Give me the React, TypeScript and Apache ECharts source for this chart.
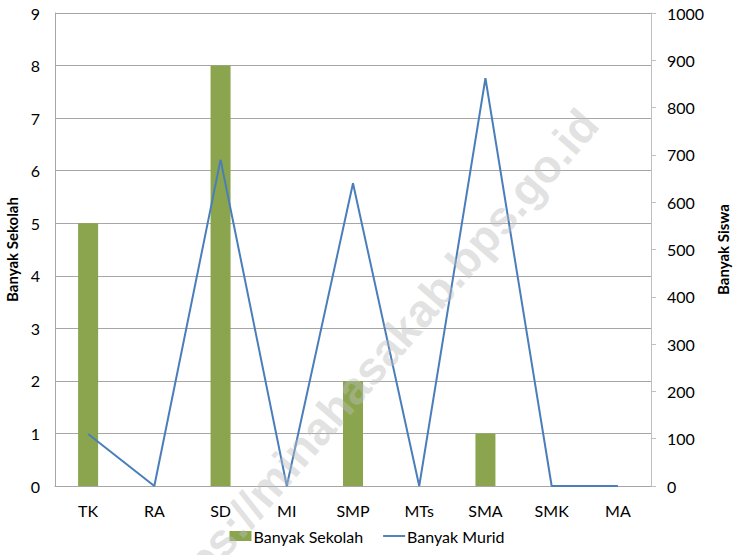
import React, { useEffect, useRef } from "react";
import * as echarts from "echarts";

const categories = ["TK", "RA", "SD", "MI", "SMP", "MTs", "SMA", "SMK", "MA"];
const banyakSekolah = [5, 0, 8, 0, 2, 0, 1, 0, 0];
const banyakMurid = [110, 0, 690, 0, 640, 0, 862, 0, 0];
const leftTicks = { min: 0, max: 9, interval: 1 };
const rightTicks = { min: 0, max: 1000, interval: 100 };

const FONT = "Lato, 'Open Sans', sans-serif";

export default function App() {
  const ref = useRef<HTMLDivElement>(null);
  useEffect(() => {
    document.body.style.margin = "0";
    if (!ref.current) return;
    const chart = echarts.init(ref.current, null, { renderer: "svg" });
    chart.setOption({
      animation: false,
      backgroundColor: "#ffffff",
      textStyle: { fontFamily: FONT },
      grid: {
        left: 55,
        right: 83,
        top: 13,
        bottom: 69,
        containLabel: false,
        outerBoundsMode: "none",
      },
      legend: {
        bottom: 6,
        left: "center",
        itemGap: 20,
        itemWidth: 22,
        itemHeight: 10,
        textStyle: { fontSize: 16, color: "#000", fontFamily: FONT, padding: [0, 0, 0, -3] },
        data: [
          { name: "Banyak Sekolah", icon: "rect" },
          { name: "Banyak Murid", icon: "path://M0,0h30v2.6h-30z" },
        ],
      },
      xAxis: {
        type: "category",
        data: categories,
        axisLine: { lineStyle: { color: "#a6a6a6" } },
        axisTick: { show: false },
        axisLabel: { fontSize: 16, color: "#000", margin: 16, fontFamily: FONT },
      },
      yAxis: [
        {
          type: "value",
          ...leftTicks,
          name: "Banyak Sekolah",
          nameLocation: "middle",
          nameGap: 34,
          nameTextStyle: { fontSize: 15, fontWeight: "bold", color: "#000", fontFamily: FONT },
          axisLine: { show: true, lineStyle: { color: "#a6a6a6" } },
          axisTick: { show: false },
          axisLabel: { fontSize: 16, color: "#000", margin: 15, fontFamily: FONT },
          splitLine: { lineStyle: { color: "#a6a6a6" } },
        },
        {
          type: "value",
          ...rightTicks,
          name: "Banyak Siswa",
          nameLocation: "middle",
          nameGap: 64,
          nameRotate: 90,
          nameTextStyle: { fontSize: 15, fontWeight: "bold", color: "#000", fontFamily: FONT },
          position: "right",
          axisLine: { show: true, lineStyle: { color: "#bfbfbf" } },
          axisTick: { show: true, length: 5, lineStyle: { color: "#bfbfbf" } },
          axisLabel: {
            fontSize: 16,
            color: "#000",
            margin: 16,
            fontFamily: FONT,
            formatter: (v: number) => String(v),
          },
          splitLine: { show: false },
        },
      ],
      series: [
        {
          name: "Banyak Sekolah",
          type: "bar",
          data: banyakSekolah,
          barWidth: 20,
          itemStyle: { color: "#8aa54d" },
          yAxisIndex: 0,
        },
        {
          name: "Banyak Murid",
          type: "line",
          data: banyakMurid,
          yAxisIndex: 1,
          symbol: "none",
          lineStyle: { color: "#4a7ebb", width: 2 },
          itemStyle: { color: "#4a7ebb" },
        },
      ],
      graphic: [
        {
          type: "text",
          x: 372,
          y: 366,
          rotation: (49 * Math.PI) / 180,
          z: 100,
          style: {
            text: "https://minahasakab.bps.go.id",
            fontSize: 46,
            fontWeight: "bold",
            fontFamily: "'Liberation Sans', Arial, sans-serif",
            fill: "rgba(190,190,190,0.45)",
            align: "center",
            verticalAlign: "middle",
          },
        },
      ],
    });
    return () => chart.dispose();
  }, []);
  return <div ref={ref} style={{ width: 734, height: 555 }} />;
}
